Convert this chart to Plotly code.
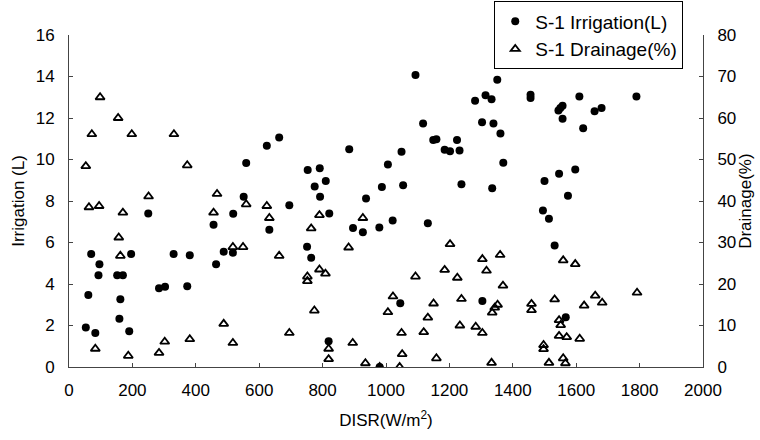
import plotly.graph_objects as go

# DISR (W/m2) vs irrigation amount (L)
disr_irrigation = [53, 61, 70, 83, 93, 96, 152, 159, 162, 170, 190, 196, 250, 284, 303, 330, 373, 381,
                   456, 464, 488, 517, 518, 551, 559, 624, 632, 663, 695, 751, 753, 764, 775, 791, 792,
                   810, 819, 821, 884, 896, 927, 937, 979, 980, 987, 1006, 1021, 1045, 1049, 1054, 1093,
                   1117, 1132, 1149, 1159, 1185, 1202, 1224, 1232, 1238, 1281, 1303, 1304, 1314, 1333,
                   1335, 1339, 1351, 1361, 1370, 1456, 1456, 1495, 1500, 1514, 1532, 1544, 1546, 1550,
                   1557, 1557, 1567, 1574, 1597, 1610, 1622, 1658, 1680, 1790]
irrigation_L = [1.9, 3.47, 5.44, 1.64, 4.42, 4.95, 4.42, 2.32, 3.27, 4.42, 1.72, 5.44, 7.4, 3.8, 3.87, 5.44, 3.89, 5.39,
                6.85, 4.95, 5.56, 5.51, 7.38, 8.2, 9.83, 10.66, 6.61, 11.06, 7.8, 5.79, 9.5, 5.26, 8.7, 9.58, 8.2,
                8.96, 1.24, 7.4, 10.5, 6.7, 6.5, 8.12, 6.72, 0.0, 8.68, 9.76, 7.06, 3.07, 10.37, 8.76, 14.07,
                11.74, 6.93, 10.94, 10.98, 10.47, 10.4, 10.94, 10.43, 8.81, 12.83, 11.8, 3.18, 13.1, 12.9,
                8.62, 11.74, 13.84, 11.25, 9.84, 13.12, 12.96, 7.54, 8.96, 7.14, 5.85, 12.36, 9.31, 12.48,
                12.59, 11.96, 2.4, 8.25, 9.52, 13.04, 11.51, 12.33, 12.48, 13.04]

# DISR (W/m2) vs drainage ratio (%)
disr_drainage = [53, 63, 72, 83, 95, 98, 155, 157, 162, 170, 187, 198, 251, 284, 302, 331, 373, 381,
                 456, 467, 488, 517, 517, 549, 559, 624, 632, 663, 695, 752, 752, 764, 774, 790, 790,
                 809, 819, 819, 882, 895, 927, 935, 980, 1006, 1022, 1043, 1049, 1051, 1093, 1119,
                 1132, 1150, 1159, 1185, 1202, 1225, 1233, 1238, 1283, 1304, 1304, 1317, 1333, 1335,
                 1343, 1352, 1360, 1369, 1459, 1459, 1497, 1497, 1514, 1532, 1546, 1551, 1546, 1559,
                 1559, 1566, 1570, 1597, 1611, 1625, 1660, 1682, 1792]
drainage_pct = [48.4, 38.5, 56.1, 4.4, 38.8, 65.0, 60.0, 31.2, 26.8, 37.2, 2.7, 56.1, 41.1, 3.4, 6.1, 56.1, 48.6, 6.7,
                37.2, 41.7, 10.4, 28.9, 5.8, 28.9, 39.2, 38.8, 35.9, 26.8, 8.2, 21.8, 20.7, 33.4, 13.6, 36.6, 23.5,
                22.5, 4.4, 1.9, 28.8, 5.8, 35.9, 0.9, 0.0, 13.2, 17.0, 0.0, 8.2, 3.1, 21.8, 8.4,
                11.9, 15.3, 2.1, 23.4, 29.6, 21.5, 10.0, 16.4, 9.7, 26.0, 8.2, 23.2, 1.0, 13.1,
                14.3, 15.0, 27.0, 19.6, 15.2, 13.7, 5.3, 4.3, 1.0, 16.3, 11.3, 10.1, 7.5, 25.7,
                2.1, 0.9, 7.2, 24.8, 6.8, 14.8, 17.2, 15.5, 17.9]

x_ticks = [0, 200, 400, 600, 800, 1000, 1200, 1400, 1600, 1800, 2000]
y_ticks = [0, 2, 4, 6, 8, 10, 12, 14, 16]
y2_ticks = [0, 10, 20, 30, 40, 50, 60, 70, 80]

FONT = "Liberation Sans, Arial, sans-serif"

fig = go.Figure()
fig.add_trace(go.Scatter(
    x=disr_irrigation, y=irrigation_L, mode="markers", name="S-1 Irrigation(L)",
    marker=dict(symbol="circle", size=8, color="black"),
))
fig.add_trace(go.Scatter(
    x=disr_drainage, y=drainage_pct, mode="markers", name="S-1 Drainage(%)", yaxis="y2",
    marker=dict(symbol="triangle-up-open", size=8, color="black", line=dict(width=1.8, color="black")),
))

axis_common = dict(
    showgrid=False, zeroline=False, showline=True, linecolor="#444", linewidth=1,
    ticks="inside", ticklen=4, tickcolor="#444", automargin=True,
    tickfont=dict(family=FONT, size=17, color="black"),
)

fig.update_layout(
    width=760, height=440,
    margin=dict(l=69, r=57, t=35, b=73, autoexpand=False),
    paper_bgcolor="white", plot_bgcolor="white",
    font=dict(family=FONT, color="black"),
    xaxis=dict(range=[0, 2000], tickvals=x_ticks, ticklabelstandoff=8,
               title=dict(text="DISR(W/m<sup>2</sup>)", font=dict(size=17), standoff=14),
               **axis_common),
    yaxis=dict(range=[0, 16], tickvals=y_ticks, ticklabelstandoff=10,
               title=dict(text="Irrigation (L)", font=dict(size=17), standoff=6),
               **axis_common),
    yaxis2=dict(range=[0, 80], tickvals=y2_ticks, overlaying="y", side="right", ticklabelstandoff=10,
                **axis_common),
    annotations=[dict(text="Drainage(%)", xref="paper", yref="paper", x=1.066, y=0.5,
                      xanchor="center", yanchor="middle", textangle=-90, showarrow=False,
                      font=dict(family=FONT, size=17, color="black"))],
    showlegend=True,
    legend=dict(xref="container", yref="container", x=0.899, xanchor="right", y=0.997, yanchor="top",
                bordercolor="black", borderwidth=1, bgcolor="white",
                font=dict(family=FONT, size=19, color="black"),
                itemwidth=30, tracegroupgap=0),
)

fig.write_html("out.html", config={"displayModeBar": False},
               post_script="document.body.style.margin='0';")
